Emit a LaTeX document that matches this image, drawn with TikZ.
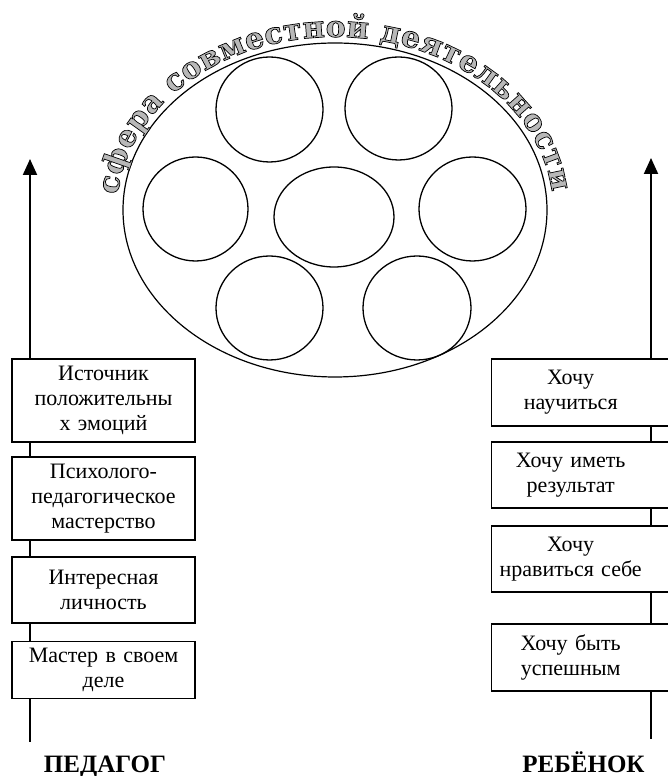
\documentclass[tikz,border=0pt]{standalone}
\usepackage{fontspec}
\setmainfont{Liberation Serif}
\newfontfamily\arcfont{DejaVu Serif}
\usetikzlibrary{arrows.meta,decorations.text}

% grey letters with a thin black outline
\newcommand\outlined{\color{black!28}\special{pdf:literal direct 0 G 2 Tr 0.7 w}}

\begin{document}
\begin{tikzpicture}[x=1pt,y=1pt,line width=1.4pt]
    \tikzstyle{lbox}=[rectangle,draw,fill=white,minimum width=183pt,text width=178pt,align=center,inner sep=2pt,font=\fontsize{22}{25}\selectfont]
    \tikzstyle{rbox}=[rectangle,draw,fill=white,anchor=west,minimum width=200pt]
    \tikzstyle{rtext}=[text width=170pt,align=center,xshift=-21pt,font=\fontsize{22}{25}\selectfont]
    \tikzstyle{axis}=[line width=2pt,-{Triangle[width=14pt,length=16pt]}]
    \tikzstyle{who}=[anchor=base,font=\fontsize{25}{25}\selectfont\bfseries]

    \useasboundingbox (0,0) rectangle (667,776);

    % sphere and its circles
    \draw[line width=1.2pt] (335,566) ellipse [x radius=212, y radius=167];
    \foreach \x/\y/\rx/\ry in {269.5/666.5/53.5/52.5, 398.5/667.5/53.5/51.5,
      195.5/567/52.5/52, 334/559/60/50, 472.5/567/53.5/52,
      269.5/468/53.5/52, 417/468/54/52}
    \draw[line width=1.3pt] (\x,\y) ellipse [x radius=\rx, y radius=\ry];

    % teacher side
    \coordinate (L-bot) at (30,34);
    \coordinate (L-top) at (30,617);
    \draw[axis] (L-bot) -- (L-top);
    \node[lbox,minimum height=83pt] (L-1) at (103.5,375.5) {Источник\\положительны\\х эмоций};
    \node[lbox,minimum height=83pt] (L-2) at (103.5,277.5) {Психолого-\\педагогическое\\мастерство};
    \node[lbox,minimum height=66pt] (L-3) at (103.5,186) {Интересная\\личность};
    \node[lbox,minimum height=57pt] (L-4) at (103.5,106) {Мастер в своем\\деле};
    \node[who] (T) at (105,4) {ПЕДАГОГ};

    % child side
    \coordinate (R-bot) at (651,37);
    \coordinate (R-top) at (651,618);
    \draw[axis] (R-bot) -- (R-top);
    \node[rbox,minimum height=67pt,label={[rtext,name=R-1-t]center:Хочу\\научиться}] (R-1) at (491,383.5) {};
    \node[rbox,minimum height=66pt,label={[rtext,name=R-2-t]center:Хочу иметь\\результат}] (R-2) at (491,301) {};
    \node[rbox,minimum height=66pt,label={[rtext,name=R-3-t]center:Хочу\\нравиться себе}] (R-3) at (491,217) {};
    \node[rbox,minimum height=67pt,label={[rtext,name=R-4-t]center:Хочу быть\\успешным}] (R-4) at (491,118.5) {};
    \node[who] (C) at (583.5,4) {РЕБЁНОК};

    % title along the sphere
    {\arcfont\bfseries\fontsize{30}{30}\selectfont
    \path[decorate,decoration={text along path,text align=fit to path,
      text={|\outlined|сфера совместной деятельности}}]
      (335,566) ++(175:218 and 173) arc[start angle=175,end angle=6,x radius=218,y radius=173];}
\end{tikzpicture}
\end{document}
